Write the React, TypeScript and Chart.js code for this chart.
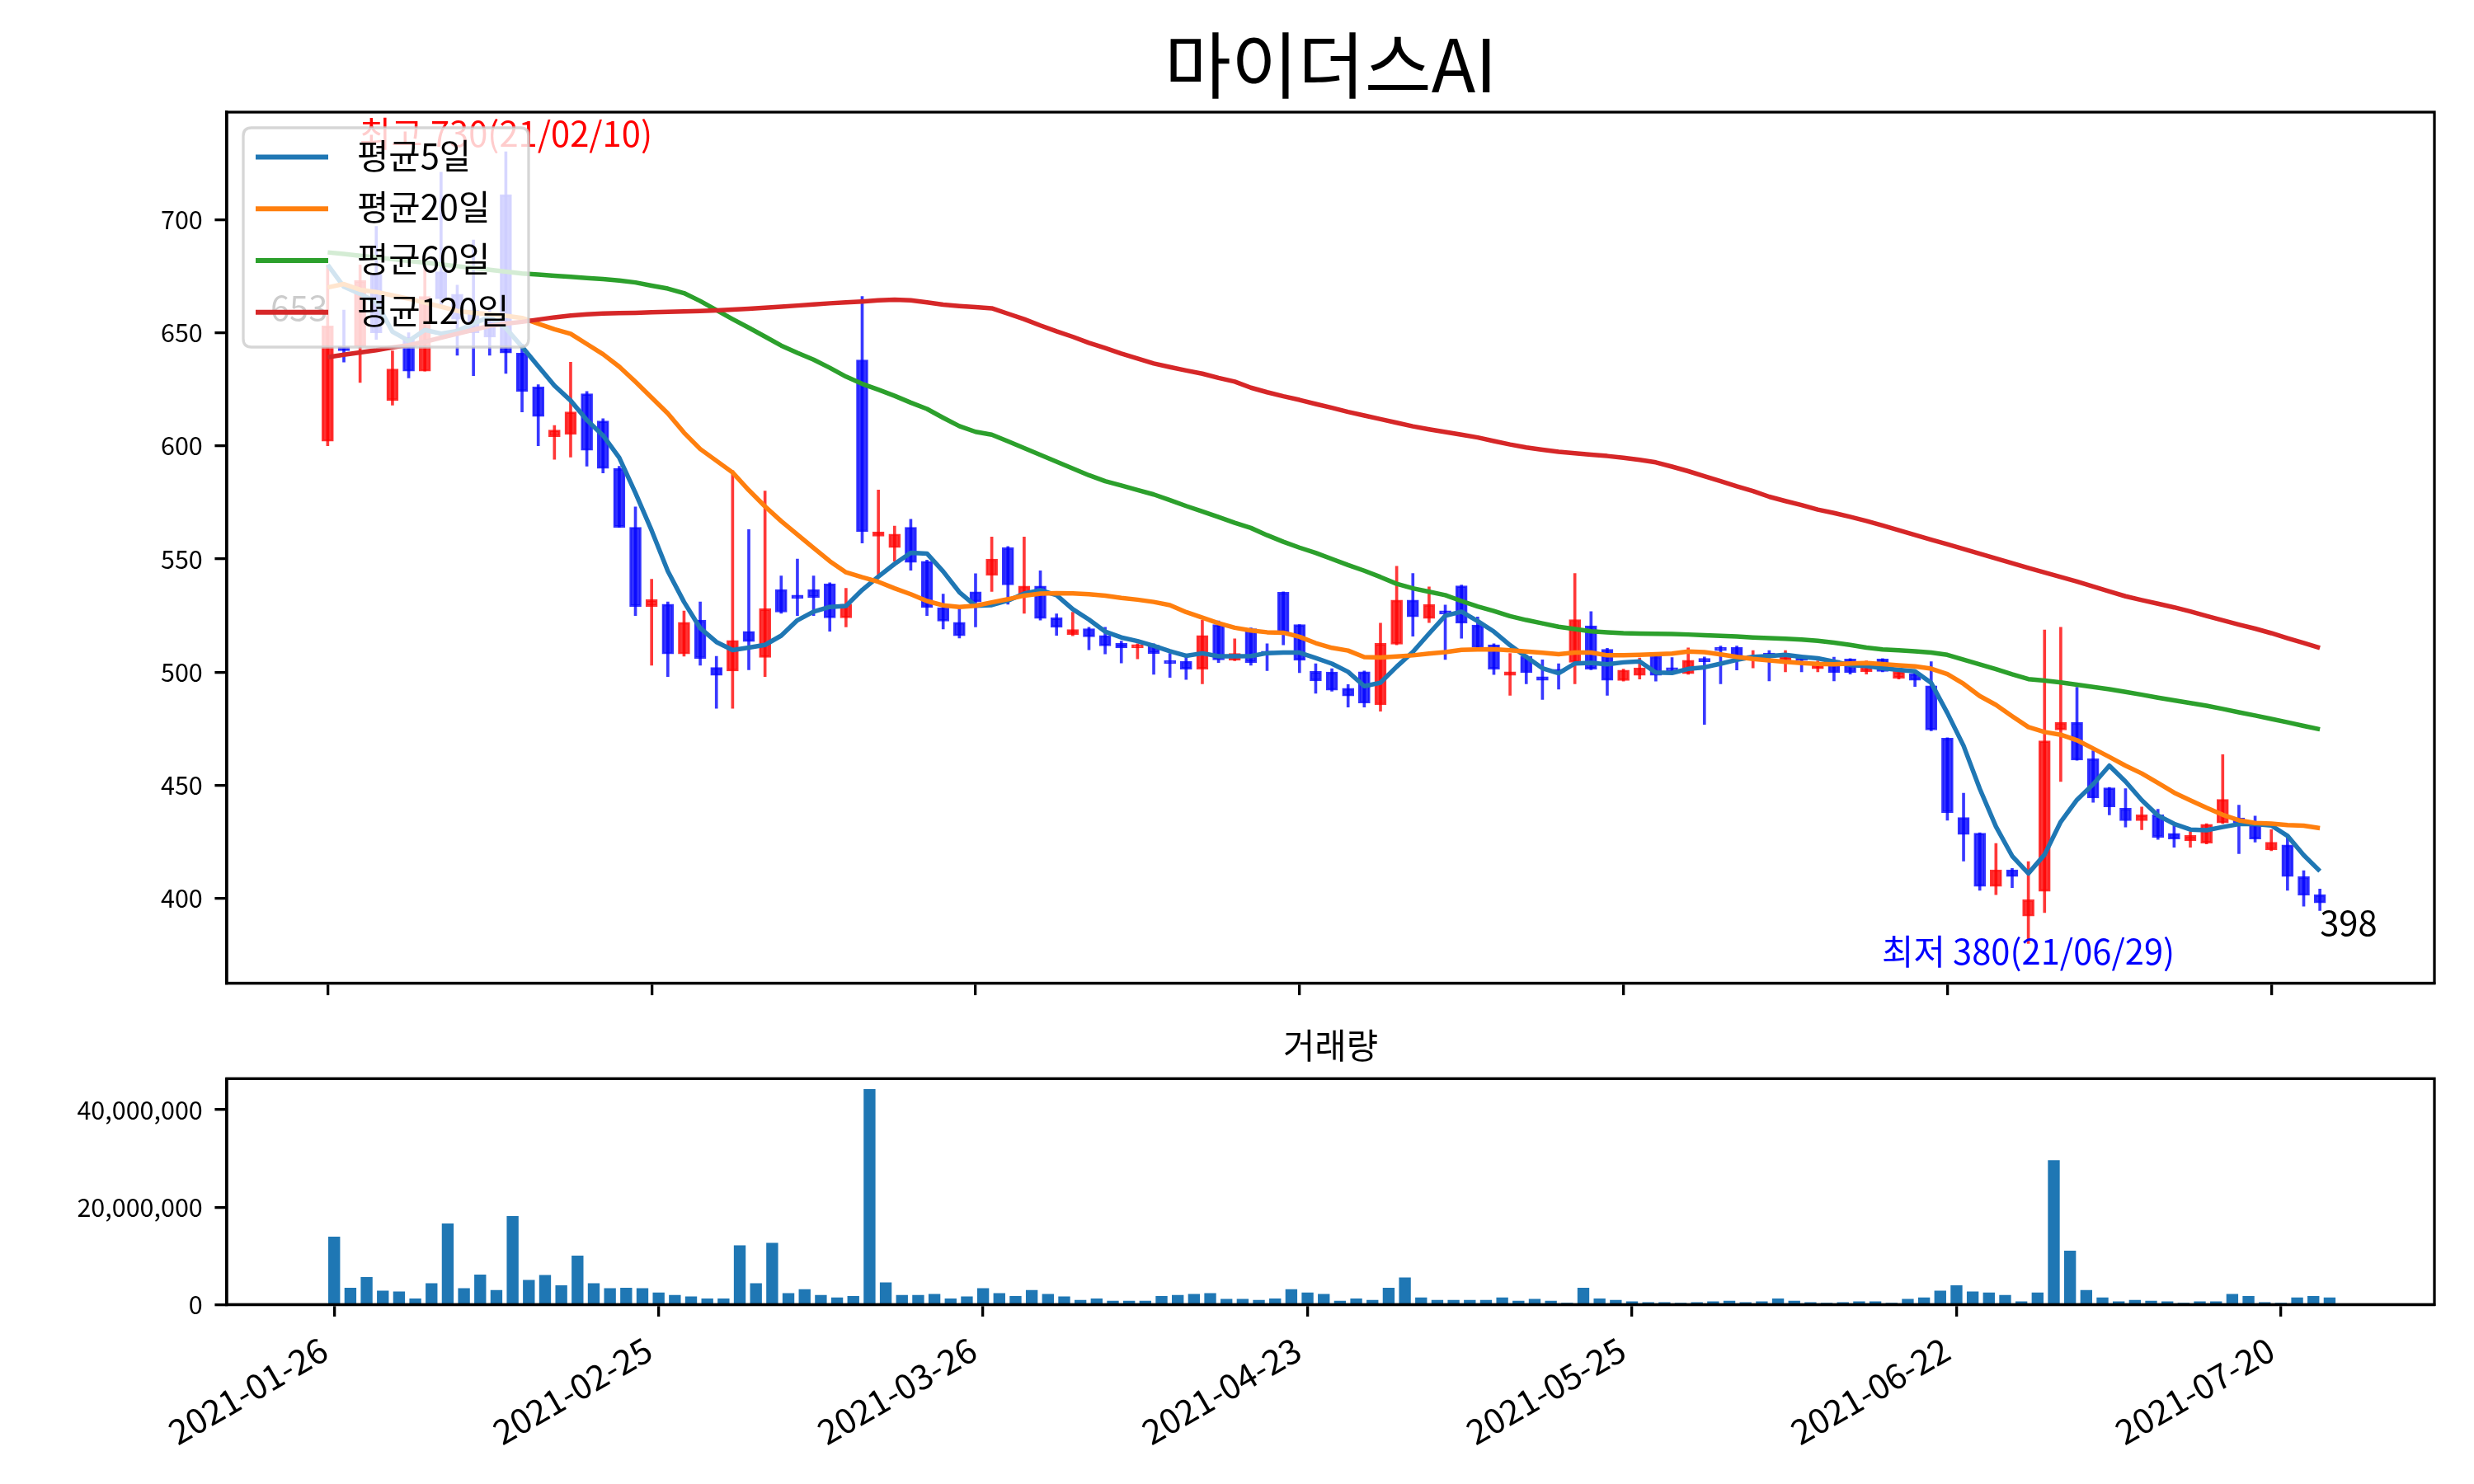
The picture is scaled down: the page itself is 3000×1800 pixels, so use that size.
import React, { useEffect, useRef } from "react";
import { Chart, registerables } from "chart.js";

Chart.register(...registerables);

const FONT = "'Noto Sans CJK KR', 'Noto Sans', sans-serif";
Chart.defaults.font.family = FONT;

const chartTitle = "마이더스AI";
const volumeTitle = "거래량";
const legendLabels = ["평균5일", "평균20일", "평균60일", "평균120일"];
const maColors = ["#1f77b4", "#ff7f0e", "#2ca02c", "#d62728"];

const tradingDays = [
  "2021-01-26", "2021-01-27", "2021-01-28", "2021-01-29",
  "2021-02-01", "2021-02-02", "2021-02-03", "2021-02-04", "2021-02-05",
  "2021-02-08", "2021-02-09", "2021-02-10",
  "2021-02-15", "2021-02-16", "2021-02-17", "2021-02-18", "2021-02-19",
  "2021-02-22", "2021-02-23", "2021-02-24", "2021-02-25", "2021-02-26",
  "2021-03-02", "2021-03-03", "2021-03-04", "2021-03-05",
  "2021-03-08", "2021-03-09", "2021-03-10", "2021-03-11", "2021-03-12",
  "2021-03-15", "2021-03-16", "2021-03-17", "2021-03-18", "2021-03-19",
  "2021-03-22", "2021-03-23", "2021-03-24", "2021-03-25", "2021-03-26",
  "2021-03-29", "2021-03-30", "2021-03-31", "2021-04-01", "2021-04-02",
  "2021-04-05", "2021-04-06", "2021-04-07", "2021-04-08", "2021-04-09",
  "2021-04-12", "2021-04-13", "2021-04-14", "2021-04-15", "2021-04-16",
  "2021-04-19", "2021-04-20", "2021-04-21", "2021-04-22", "2021-04-23",
  "2021-04-26", "2021-04-27", "2021-04-28", "2021-04-29", "2021-04-30",
  "2021-05-03", "2021-05-04", "2021-05-06", "2021-05-07",
  "2021-05-10", "2021-05-11", "2021-05-12", "2021-05-13", "2021-05-14",
  "2021-05-17", "2021-05-18", "2021-05-20", "2021-05-21",
  "2021-05-24", "2021-05-25", "2021-05-26", "2021-05-27", "2021-05-28",
  "2021-05-31", "2021-06-01", "2021-06-02", "2021-06-03", "2021-06-04",
  "2021-06-07", "2021-06-08", "2021-06-09", "2021-06-10", "2021-06-11",
  "2021-06-14", "2021-06-15", "2021-06-16", "2021-06-17", "2021-06-18",
  "2021-06-21", "2021-06-22", "2021-06-23", "2021-06-24", "2021-06-25",
  "2021-06-28", "2021-06-29", "2021-06-30", "2021-07-01", "2021-07-02",
  "2021-07-05", "2021-07-06", "2021-07-07", "2021-07-08", "2021-07-09",
  "2021-07-12", "2021-07-13", "2021-07-14", "2021-07-15", "2021-07-16",
  "2021-07-19", "2021-07-20", "2021-07-21", "2021-07-22", "2021-07-23",
];

const opens = [
  602, 644, 644, 676, 620, 648, 633, 677, 667, 660,
  655, 711, 641, 626, 604, 605, 623, 611, 590, 564,
  529, 530, 508, 523, 502, 500.5, 518, 506.5, 536.5, 534,
  536.5, 539, 524, 638, 560, 555, 564, 549, 528.5, 522,
  535.5, 542.7, 555, 534.5, 538, 524, 516.5, 519.2, 516.2, 512.7,
  510.7, 511.9, 504.6, 504.8, 501.3, 521, 505.2, 519.2, 508.5, 535.3,
  521, 500.3, 500, 492.8, 500.1, 485.5, 512.3, 531.8, 523.7, 526,
  538.1, 520.8, 512.1, 498.5, 507, 497.9, 500.5, 504.3, 520.4, 510.1,
  496.3, 498.5, 507, 501.5, 499.3, 505.8, 510.1, 511, 505.8, 508.2,
  505.2, 507, 501.5, 505.2, 505.8, 500.1, 505.8, 497.3, 499.3, 493.9,
  470.8, 435.7, 428.8, 405.3, 412.6, 392.1, 403.1, 474.4, 477.8, 461.7,
  448.8, 439.8, 434.3, 436.9, 428.7, 425.4, 424.4, 433.3, 435.5, 432.7,
  421.4, 423.6, 409.6, 401.6,
];

const highs = [
  680, 660, 680, 697, 642, 650, 679, 721, 671, 691,
  660, 730, 645, 627, 609, 637, 624, 612, 591, 573,
  541, 531, 527, 531, 507, 589, 563, 580, 542.5, 550,
  542.5, 539.5, 537, 666, 580.5, 564.5, 567.5, 549.5, 534.5, 529.5,
  543.5, 559.7, 555.5, 559.7, 544.8, 525.7, 526.5, 519.8, 519.8, 513.7,
  512.5, 512.5, 508.2, 507, 522.9, 522.6, 514.7, 519.5, 512.5, 535.5,
  521, 503.7, 501.5, 494.5, 500.5, 521.6, 546.8, 543.6, 537.7, 529.6,
  538.5, 524.4, 512.5, 508.2, 507.5, 505.4, 503.7, 543.6, 526.7, 510.5,
  501.3, 506.2, 507.5, 506.4, 510.7, 506.7, 511.5, 511.5, 509.5, 509.5,
  509.5, 507.5, 505, 506.6, 506, 505, 506, 501.5, 499.5, 504.6,
  471, 446.5, 429, 424.2, 413.2, 416.2, 518.6, 519.8, 493.3, 465.2,
  449, 448.5, 440.4, 439.4, 432.1, 429.4, 433, 463.5, 441.2, 436.4,
  430.3, 427.2, 412.2, 404.1,
];

const lows = [
  600, 637, 628, 647, 618, 630, 633, 662, 640, 631,
  640, 632, 615, 600, 594, 595, 591, 588, 564, 525,
  503, 498, 507, 503, 484, 484, 501, 498, 526, 525,
  525, 518, 520, 557, 542.5, 549, 545, 525, 519, 515,
  520, 535.6, 530, 526, 523, 516.2, 516, 509.8, 508, 504,
  505.8, 499, 497.6, 496.7, 494.8, 504.2, 505, 503, 500.6, 512,
  499.7, 490.6, 491.5, 484.5, 484.5, 482.7, 512, 515.9, 521.9, 505.6,
  514.9, 510.5, 498.9, 489.7, 494.8, 487.9, 492.4, 494.8, 501, 489.7,
  496, 496.9, 496, 499.1, 499, 476.9, 494.8, 500.9, 501.8, 496.1,
  500.1, 500.1, 500.1, 496.1, 499.1, 499.1, 500.1, 496.9, 493.6, 474,
  434.5, 416.5, 403.5, 401.6, 404.7, 380, 393.7, 451.6, 461, 442.4,
  436.9, 431.5, 430.3, 426, 422.6, 422.6, 424, 433, 419.7, 424.8,
  421, 403.5, 396.5, 394.6,
];

const closes = [
  653, 642, 673, 650, 634, 633, 666, 665, 656, 650,
  648, 641, 624, 613, 607, 615, 598, 590, 564, 529,
  532, 508, 522, 506, 498.5, 514, 513.5, 528, 526.5, 532.5,
  533, 524, 530, 562, 562, 561, 548.5, 528.5, 522.5, 516,
  531, 550, 538.5, 538, 523.7, 519.8, 518.8, 515.6, 511.6, 510.7,
  512, 508.2, 503.7, 501.3, 516.2, 505.4, 508.2, 504.2, 507.8, 517.6,
  505.2, 496.1, 492, 489.4, 486.3, 512.7, 531.8, 524.4, 529.9, 525.6,
  521.6, 511, 501.3, 500.1, 499.7, 496.4, 499.8, 523.2, 501.3, 496.4,
  500.9, 501.9, 498.5, 500.5, 505.2, 504.6, 509.5, 507, 507.4, 507,
  507, 505.2, 504, 499.7, 499.7, 504.8, 500.3, 500.3, 496.4, 474.4,
  437.9, 428.2, 405.3, 412.6, 409.6, 399.4, 469.6, 477.8, 461.1, 444.3,
  440.4, 434.3, 436.9, 426.9, 426.2, 427.8, 432.7, 443.7, 433.5, 426.2,
  424.8, 409.6, 401.3, 398,
];

const ma5 = [
  680, 670.3, 667.2, 663.6, 650.4, 646.4, 651.2, 649.6, 650.8, 654,
  657, 652, 643.8, 635.2, 626.6, 620, 611.4, 604.6, 594.8, 579.2,
  562.6, 544.6, 531, 519.4, 513.3, 509.7, 510.8, 512, 516.1, 522.9,
  526.7, 528.8, 529.2, 536.3, 542.2, 547.8, 552.7, 552.4, 544.5, 535.3,
  529.3, 529.6, 531.6, 534.7, 536.2, 534, 527.8, 523.2, 517.9, 515.3,
  513.7, 511.6, 509.2, 507.2, 508.3, 507, 507, 507.1, 508.4, 508.6,
  508.6, 506.2, 503.7, 500.1, 493.8, 495.3, 502.4, 508.9, 517, 524.9,
  526.7, 522.5, 517.9, 511.9, 506.7, 501.7, 499.5, 503.8, 504.1, 503.4,
  504.3, 504.7, 499.8, 499.6, 501.4, 502.1, 503.7, 505.4, 506.7, 507.1,
  507.6, 506.7, 506.1, 504.6, 503.1, 502.7, 501.7, 501, 500.3, 495.2,
  481.9, 467.4, 448.4, 431.7, 418.7, 411, 419.3, 433.8, 443.5, 450.4,
  458.6, 451.6, 443.4, 436.6, 432.9, 430.4, 430.1, 431.5, 432.8, 432.8,
  432.2, 427.6, 419.1, 412,
];

const ma20 = [
  670, 671.5, 669, 668, 666.5, 665, 663.3, 661.5, 659.6, 658.8,
  658.2, 657.5, 656.5, 654, 651.5, 649.5, 645, 640.5, 635, 628.3,
  621.3, 614.3, 605.8, 598.6, 593.4, 588.2, 580.4, 573.2, 566.7, 560.8,
  554.9, 549, 544.1, 541.9, 539.9, 537, 534.4, 531.4, 529.5, 528.8,
  529.3, 530.8, 532.2, 533.8, 534.7, 534.9, 534.8, 534.4, 533.8, 532.8,
  532, 531, 529.6, 526.5, 524.1, 521.6, 519.6, 518.4, 517.6, 517.4,
  515.6, 512.8, 510.7, 509.5, 506.6, 506.4, 506.9, 507.4, 508.2, 508.8,
  509.8, 510, 510.1, 509.6, 509.1, 508.5, 507.9, 508.6, 508.6, 507.4,
  507.4, 507.6, 507.9, 508.2, 509.1, 508.8, 507.8, 506.7, 505.8, 505.2,
  504.5, 504, 503.6, 503.4, 503.8, 504, 503.5, 503, 502.5, 501.5,
  499.1, 494.8, 489.4, 485.5, 480.5, 475.7, 473.5, 472.3, 469.9, 466.2,
  462.5, 458.6, 455.2, 451, 446.7, 443.3, 440, 436.9, 434.5, 433.3,
  433, 432.4, 432.1, 431,
];

const ma60 = [
  685.5, 684.8, 684, 683.3, 682.5, 681.7, 681, 680.2, 679.4, 678.6,
  677.8, 677, 676.2, 675.7, 675.2, 674.7, 674.2, 673.7, 673.1, 672.2,
  670.8, 669.5, 667.5, 664, 660, 656, 652.2, 648.3, 644.3, 641.1,
  638.1, 634.5, 630.6, 627.4, 624.8, 622.1, 619.1, 616.3, 612.4, 608.7,
  606.2, 604.9, 602, 599, 596, 593, 590, 587, 584.4, 582.5,
  580.5, 578.5, 576, 573.4, 571, 568.5, 566, 563.7, 560.5, 557.6,
  555, 552.7, 550, 547.3, 544.8, 542, 539, 537, 535.5, 534,
  531.4, 529, 527, 524.7, 523, 521.5, 520, 519, 518, 517.6,
  517.2, 517, 516.9, 516.8, 516.6, 516.3, 516, 515.7, 515.3, 515,
  514.7, 514.4, 513.8, 513, 512, 510.8, 510, 509.6, 509.2, 508.6,
  507.6, 505.5, 503.4, 501.3, 499, 496.9, 496.2, 495.4, 494.4, 493.4,
  492.4, 491.2, 490, 488.7, 487.5, 486.3, 485.1, 483.7, 482.2, 480.8,
  479.3, 477.8, 476.2, 474.7,
];

const ma120 = [
  639.2, 640.3, 641.3, 642.3, 643.5, 644.5, 646, 647.8, 649.5, 651.3,
  653, 654, 654.8, 655.8, 656.8, 657.6, 658.1, 658.5, 658.7, 658.8,
  659, 659.2, 659.4, 659.6, 659.9, 660.2, 660.6, 661, 661.5, 662,
  662.5, 663, 663.4, 663.8, 664.3, 664.6, 664.3, 663.4, 662.4, 661.8,
  661.3, 660.8, 658.4, 656, 653.2, 650.6, 648.2, 645.5, 643.2, 640.8,
  638.6, 636.4, 634.8, 633.3, 631.9, 630, 628.4, 625.7, 623.7, 621.9,
  620.3, 618.5, 616.8, 615, 613.4, 611.8, 610.2, 608.6, 607.3, 606.1,
  604.9, 603.7, 602.1, 600.6, 599.3, 598.3, 597.4, 596.7, 596.1, 595.5,
  594.7, 593.8, 592.7, 590.8, 588.8, 586.6, 584.4, 582.1, 580, 577.5,
  575.6, 573.8, 571.8, 570.3, 568.6, 566.8, 564.8, 562.7, 560.6, 558.5,
  556.5, 554.4, 552.3, 550.2, 548.1, 546, 544, 542, 540, 537.8,
  535.6, 533.5, 531.8, 530.2, 528.6, 526.8, 524.8, 522.9, 521, 519.2,
  517.2, 515, 512.9, 510.7,
];

const volumes = [
  13900000, 3400000, 5600000, 2800000, 2600000, 1200000, 4300000, 16600000, 3300000, 6100000,
  2900000, 18100000, 5000000, 6000000, 3900000, 10000000, 4300000, 3300000, 3400000, 3300000,
  2400000, 1900000, 1600000, 1200000, 1200000, 12100000, 4300000, 12600000, 2300000, 3100000,
  1900000, 1400000, 1700000, 44200000, 4500000, 1900000, 1900000, 2100000, 1200000, 1600000,
  3300000, 2300000, 1700000, 2900000, 2100000, 1600000, 900000, 1200000, 700000, 700000,
  700000, 1700000, 1900000, 2100000, 2300000, 1100000, 1100000, 900000, 1200000, 3100000,
  2400000, 2100000, 700000, 1200000, 900000, 3400000, 5500000, 1400000, 900000, 900000,
  900000, 900000, 1400000, 700000, 1100000, 700000, 200000, 3400000, 1200000, 900000,
  600000, 400000, 400000, 200000, 400000, 600000, 700000, 400000, 600000, 1200000,
  700000, 400000, 200000, 400000, 600000, 600000, 200000, 1100000, 1400000, 2800000,
  3900000, 2600000, 2400000, 1900000, 600000, 2400000, 29600000, 11000000, 2900000, 1400000,
  600000, 900000, 700000, 600000, 200000, 600000, 600000, 2100000, 1700000, 400000,
  200000, 1400000, 1700000, 1400000,
];

const xTickIndices = [0, 20, 40, 60, 80, 100, 120];
const priceTicks = [400, 450, 500, 550, 600, 650, 700];
const volumeTicks = [0, 20000000, 40000000];

// ---- layout constants (pixels) ----
const PLOT_LEFT = 275;
const PLOT_RIGHT = 2952;
const MAIN_H = 1260;
const MAIN_TOP = 136;
const MAIN_BOTTOM = 1192.5;
const VOL_TOP_PAGE = 1200;
const VOL_H = 600;
const VOL_TOP = 108.3;
const VOL_BOTTOM = 382.3;
const LW_AXIS = 3.3;
const TICK_LEN = 14.6;
const Y_TICK_FONT = 30.5;
const X_TICK_FONT = 41.7;

const upColor = (a: number) => `rgba(255,0,0,${a})`;
const downColor = (a: number) => `rgba(0,0,255,${a})`;

const shortDate = (d: string) => d.slice(2).replace(/-/g, "/");

function axisCommon() {
  return {
    grid: {
      display: true,
      drawOnChartArea: false,
      drawTicks: true,
      tickLength: TICK_LEN,
      tickWidth: LW_AXIS,
      tickColor: "#000",
      color: "#000",
      lineWidth: LW_AXIS,
      offset: false,
    },
    border: { display: true, color: "#000", width: LW_AXIS },
  };
}

function drawFrame(chart: any) {
  const { ctx, chartArea: a } = chart;
  ctx.save();
  ctx.strokeStyle = "#000";
  ctx.lineWidth = LW_AXIS;
  ctx.strokeRect(a.left, a.top, a.right - a.left, a.bottom - a.top);
  ctx.restore();
}

const mainDecor = {
  id: "mainDecor",
  afterDraw(chart: any) {
    const { ctx, chartArea: a, scales } = chart;
    const xs = scales.x;
    const ys = scales.y;
    drawFrame(chart);
    ctx.save();
    // annotations (under the legend)
    let hiIdx = 0;
    let loIdx = 0;
    for (let i = 0; i < highs.length; i++) {
      if (highs[i] > highs[hiIdx]) hiIdx = i;
      if (lows[i] < lows[loIdx]) loIdx = i;
    }
    ctx.font = `41.7px ${FONT}`;
    ctx.textBaseline = "alphabetic";
    ctx.textAlign = "center";
    ctx.fillStyle = "#ff0000";
    ctx.fillText(
      `최고 ${highs[hiIdx]}(${shortDate(tradingDays[hiIdx])})`,
      xs.getPixelForValue(hiIdx),
      ys.getPixelForValue(highs[hiIdx]) - 6
    );
    ctx.fillStyle = "#0000ff";
    ctx.fillText(
      `최저 ${lows[loIdx]}(${shortDate(tradingDays[loIdx])})`,
      xs.getPixelForValue(loIdx),
      ys.getPixelForValue(lows[loIdx]) + 26
    );
    const last = closes.length - 1;
    ctx.fillStyle = "#000";
    ctx.textAlign = "left";
    ctx.fillText(String(closes[last]), xs.getPixelForValue(last), ys.getPixelForValue(closes[last]) + 40);
    ctx.textAlign = "right";
    ctx.fillText(String(closes[0]), xs.getPixelForValue(0), ys.getPixelForValue(closes[0]) - 6);

    // legend box
    const lx = 295, ly = 155, lw = 346, lh = 266, r = 10;
    ctx.beginPath();
    ctx.moveTo(lx + r, ly);
    ctx.lineTo(lx + lw - r, ly);
    ctx.quadraticCurveTo(lx + lw, ly, lx + lw, ly + r);
    ctx.lineTo(lx + lw, ly + lh - r);
    ctx.quadraticCurveTo(lx + lw, ly + lh, lx + lw - r, ly + lh);
    ctx.lineTo(lx + r, ly + lh);
    ctx.quadraticCurveTo(lx, ly + lh, lx, ly + lh - r);
    ctx.lineTo(lx, ly + r);
    ctx.quadraticCurveTo(lx, ly, lx + r, ly);
    ctx.closePath();
    ctx.fillStyle = "rgba(255,255,255,0.8)";
    ctx.fill();
    ctx.strokeStyle = "rgba(204,204,204,0.8)";
    ctx.lineWidth = LW_AXIS;
    ctx.stroke();
    ctx.textAlign = "left";
    ctx.font = `41.7px ${FONT}`;
    legendLabels.forEach((lab, i) => {
      const y = 190.6 + i * 62.7;
      ctx.strokeStyle = maColors[i];
      ctx.lineWidth = 6;
      ctx.beginPath();
      ctx.moveTo(310, y);
      ctx.lineTo(398, y);
      ctx.stroke();
      ctx.fillStyle = "#000";
      ctx.fillText(lab, 433, y + 14);
    });

    // title
    ctx.font = `88px ${FONT}`;
    ctx.textAlign = "center";
    ctx.fillStyle = "#000";
    ctx.fillText(chartTitle, (a.left + a.right) / 2, 112);
    ctx.restore();
  },
};

const volDecor = {
  id: "volDecor",
  afterDraw(chart: any) {
    const { ctx, chartArea: a } = chart;
    drawFrame(chart);
    ctx.save();
    ctx.font = `41.7px ${FONT}`;
    ctx.textAlign = "center";
    ctx.textBaseline = "alphabetic";
    ctx.fillStyle = "#000";
    ctx.fillText(volumeTitle, (a.left + a.right) / 2, 84);
    ctx.restore();
  },
};

export default function App() {
  const mainRef = useRef<HTMLCanvasElement | null>(null);
  const volRef = useRef<HTMLCanvasElement | null>(null);

  useEffect(() => {
    const isUp = closes.map((c, i) => c >= opens[i]);
    const lineDs = (data: number[], i: number, order: number) => ({
      type: "line" as const,
      label: legendLabels[i],
      data: data.map((v, k) => ({ x: k, y: v })),
      borderColor: maColors[i],
      borderWidth: 5.5,
      pointRadius: 0,
      tension: 0,
      borderJoinStyle: "round" as const,
      borderCapStyle: "butt" as const,
      fill: false,
      order,
    });

    const main = new Chart(mainRef.current as HTMLCanvasElement, {
      type: "line",
      data: {
        datasets: [
          lineDs(ma5, 0, 4),
          lineDs(ma20, 1, 3),
          lineDs(ma60, 2, 2),
          lineDs(ma120, 3, 1),
          {
            type: "bar",
            label: "body",
            data: opens.map((o, i) => ({ x: i, y: [o, closes[i]] })),
            backgroundColor: isUp.map((u) => (u ? upColor(0.8) : downColor(0.8))),
            borderColor: isUp.map((u) => (u ? upColor(0.8) : downColor(0.8))),
            borderWidth: 2,
            borderSkipped: false,
            barThickness: 14,
            minBarLength: 4,
            grouped: false,
            order: 5,
          } as any,
          {
            type: "bar",
            label: "wick",
            data: lows.map((l, i) => ({ x: i, y: [l, highs[i]] })),
            backgroundColor: isUp.map((u) => (u ? upColor(0.78) : downColor(0.78))),
            borderWidth: 0,
            barThickness: 3,
            grouped: false,
            order: 6,
          } as any,
        ],
      },
      options: {
        animation: false,
        responsive: false,
        devicePixelRatio: 1,
        events: [],
        layout: { padding: { top: MAIN_TOP, right: 3000 - PLOT_RIGHT, bottom: 0, left: 0 } },
        plugins: { legend: { display: false }, tooltip: { enabled: false }, title: { display: false } },
        scales: {
          x: {
            type: "linear",
            min: -6.23,
            max: 130.07,
            offset: false,
            ...axisCommon(),
            ticks: { autoSkip: false, maxRotation: 0, callback: () => "" },
            afterBuildTicks: (s: any) => {
              s.ticks = xTickIndices.map((v) => ({ value: v }));
            },
            afterFit: (s: any) => {
              s.height = MAIN_H - MAIN_BOTTOM;
            },
          },
          y: {
            type: "linear",
            position: "left",
            min: 362.5,
            max: 747.5,
            ...axisCommon(),
            ticks: {
              color: "#000",
              padding: TICK_LEN,
              font: { size: Y_TICK_FONT, family: FONT },
              callback: (v: any) => String(v),
            },
            afterBuildTicks: (s: any) => {
              s.ticks = priceTicks.map((v) => ({ value: v }));
            },
            afterFit: (s: any) => {
              s.width = PLOT_LEFT;
            },
          },
        },
      } as any,
      plugins: [mainDecor],
    });

    const vol = new Chart(volRef.current as HTMLCanvasElement, {
      type: "line",
      data: {
        datasets: [
          {
            type: "bar",
            label: "volume",
            data: volumes.map((v, i) => ({ x: i, y: v })),
            backgroundColor: "#1f77b4",
            borderWidth: 0,
            barThickness: 13.7,
            grouped: false,
          } as any,
        ],
      },
      options: {
        animation: false,
        responsive: false,
        devicePixelRatio: 1,
        events: [],
        layout: { padding: { top: VOL_TOP, right: 3000 - PLOT_RIGHT, bottom: 0, left: 0 } },
        plugins: { legend: { display: false }, tooltip: { enabled: false }, title: { display: false } },
        scales: {
          x: {
            type: "linear",
            min: -6.62,
            max: 129.46,
            offset: false,
            ...axisCommon(),
            ticks: {
              autoSkip: false,
              minRotation: 30,
              maxRotation: 30,
              color: "#000",
              padding: TICK_LEN,
              labelOffset: -12,
              font: { size: X_TICK_FONT, family: FONT },
              callback: (v: any) => tradingDays[Math.round(Number(v))] ?? "",
            },
            afterBuildTicks: (s: any) => {
              s.ticks = xTickIndices.map((v) => ({ value: v }));
            },
            afterFit: (s: any) => {
              s.height = VOL_H - VOL_BOTTOM;
            },
          },
          y: {
            type: "linear",
            position: "left",
            min: 0,
            max: 46400000,
            ...axisCommon(),
            ticks: {
              color: "#000",
              padding: TICK_LEN,
              font: { size: Y_TICK_FONT, family: FONT },
              callback: (v: any) => Number(v).toLocaleString("en-US"),
            },
            afterBuildTicks: (s: any) => {
              s.ticks = volumeTicks.map((v) => ({ value: v }));
            },
            afterFit: (s: any) => {
              s.width = PLOT_LEFT;
            },
          },
        },
      } as any,
      plugins: [volDecor],
    });

    return () => {
      main.destroy();
      vol.destroy();
    };
  }, []);

  return (
    <div
      style={{
        position: "absolute",
        left: 0,
        top: 0,
        width: 3000,
        height: 1800,
        background: "#fff",
        overflow: "hidden",
      }}
    >
      <canvas
        ref={mainRef}
        width={3000}
        height={MAIN_H}
        style={{ position: "absolute", left: 0, top: 0, width: 3000, height: MAIN_H }}
      />
      <canvas
        ref={volRef}
        width={3000}
        height={VOL_H}
        style={{ position: "absolute", left: 0, top: VOL_TOP_PAGE, width: 3000, height: VOL_H }}
      />
    </div>
  );
}
